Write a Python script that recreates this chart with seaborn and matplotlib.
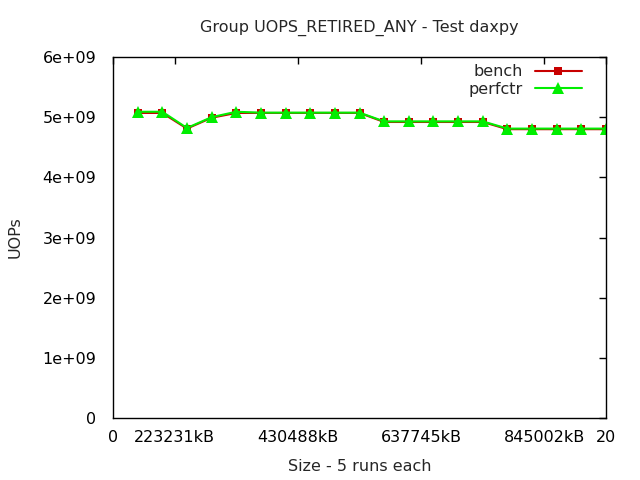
import matplotlib
matplotlib.use("Agg")
import matplotlib.pyplot as plt
import seaborn as sns
import pandas as pd

sizes = list(range(1, 21))
bench = [5.07e9, 5.07e9, 4.81e9, 4.99e9, 5.07e9, 5.07e9, 5.07e9, 5.07e9, 5.07e9, 5.07e9,
         4.92e9, 4.92e9, 4.92e9, 4.92e9, 4.92e9, 4.80e9, 4.80e9, 4.80e9, 4.80e9, 4.80e9]
perfctr = [5.09e9, 5.09e9, 4.82e9, 5.00e9, 5.09e9, 5.075e9, 5.075e9, 5.075e9, 5.075e9, 5.075e9,
           4.93e9, 4.93e9, 4.93e9, 4.93e9, 4.93e9, 4.81e9, 4.81e9, 4.81e9, 4.81e9, 4.81e9]
xtick_pos = [0, 2.5, 7.5, 12.5, 17.5, 20]
xtick_labels = ["0", "223231kB", "430488kB", "637745kB", "845002kB", "20"]
ytick_pos = [0, 1e9, 2e9, 3e9, 4e9, 5e9, 6e9]
ytick_labels = ["0", "1e+09", "2e+09", "3e+09", "4e+09", "5e+09", "6e+09"]

df_b = pd.DataFrame({"x": sizes, "y": bench})
df_p = pd.DataFrame({"x": sizes, "y": perfctr})

sns.set_style("white")
plt.rcParams["font.family"] = ["DejaVu Sans"]
FS = 11.5

fig = plt.figure(figsize=(6.4, 4.8), dpi=100)
ax = fig.add_axes([113/640, 1-418/480, (606-113)/640, (418-57)/480])

sns.lineplot(data=df_b, x="x", y="y", color="#c80000", marker="s",
             markersize=6, linewidth=1.5, markeredgewidth=0, label="bench", ax=ax)
sns.lineplot(data=df_p, x="x", y="y", color="#00ee00", marker="^",
             markersize=8, linewidth=1.5, markeredgewidth=0, label="perfctr", ax=ax)

ax.set_xlim(0, 20)
ax.set_ylim(0, 6e9)
ax.set_xticks(xtick_pos)
ax.set_xticklabels(xtick_labels)
ax.set_yticks(ytick_pos)
ax.set_yticklabels(ytick_labels)
ax.tick_params(axis="both", direction="in", top=True, right=True, length=5, width=1,
               labelsize=FS, colors="black")
ax.tick_params(axis="y", pad=12)
ax.tick_params(axis="x", pad=9)
for s in ax.spines.values():
    s.set_color("black")
    s.set_linewidth(1)

ax.set_xlabel("Size - 5 runs each", fontsize=FS, labelpad=10)
ax.set_ylabel("UOPs", fontsize=FS, labelpad=14)
ax.set_title("Group UOPS_RETIRED_ANY - Test daxpy", fontsize=FS, pad=18)

leg = ax.legend(loc="upper right", bbox_to_anchor=(0.972, 1.008), frameon=False,
                markerfirst=False, fontsize=FS, handlelength=2.95, borderaxespad=0.25,
                labelspacing=0.15, handletextpad=0.75)

fig.savefig("out.png", dpi=100)
